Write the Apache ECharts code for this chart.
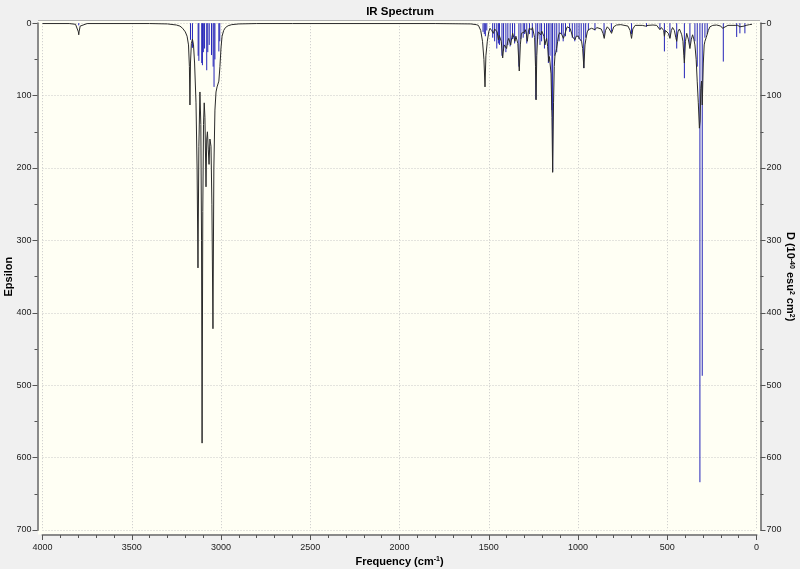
<!DOCTYPE html>
<html>
<head>
<meta charset="utf-8">
<script src="https://cdn.jsdelivr.net/npm/echarts@6/dist/echarts.min.js"></script>
<style>
  html, body { margin: 0; padding: 0; background: #f0f0f0; }
  #chart { width: 800px; height: 569px; }
</style>
</head>
<body>
<div id="chart"></div>
<script>
// ---- Data ----
var chartTitle = 'IR Spectrum';
var xTicks = [4000, 3500, 3000, 2500, 2000, 1500, 1000, 500, 0];
var yTicks = [0, 100, 200, 300, 400, 500, 600, 700];

// Broadened spectrum: [frequency (cm-1), epsilon]
var spectrumPoints = [
  [4000,0.5],[3850,0.5],[3815,1.5],[3805,4],[3799,12],[3797,16],[3795,12],[3789,4],[3780,1.5],[3750,0.5],
  [3400,0.5],[3300,1],[3250,2.5],[3230,4],[3215,7],[3200,12],[3190,18],[3182,30],[3177,60],[3174,113],
  [3171,55],[3166,28],[3160,22],[3154,30],[3148,55],[3140,110],[3134,200],[3129,338],[3124,170],[3118,95],
  [3113,140],[3109,300],[3106,580],[3102,260],[3098,140],[3094,110],[3090,130],[3084,226],[3080,160],
  [3076,150],[3071,175],[3067,195],[3062,160],[3056,170],[3051,250],[3045,422],[3040,200],[3034,120],
  [3028,95],[3022,88],[3017,86],[3012,80],[3006,60],[3000,34],[2994,18],[2985,10],[2975,6],[2960,3.5],
  [2940,2],[2900,1],[2800,0.5],[2600,0.5],[1800,0.5],[1600,1],[1570,2],[1558,3],[1545,10],[1535,25],
  [1527,50],[1521,88],[1516,45],[1508,25],[1500,12],[1493,7],[1484,10],[1474,14],[1467,8],[1461,6],
  [1453,12],[1446,23],[1441,17],[1437,16],[1430,25],[1422,48],[1417,35],[1413,30],[1406,30],[1400,35],
  [1394,25],[1388,21],[1382,26],[1377,30],[1371,20],[1366,14],[1359,20],[1353,25],[1348,18],[1344,16],
  [1337,28],[1329,66],[1323,30],[1317,14],[1311,14],[1306,16],[1300,12],[1295,9],[1289,15],[1284,25],
  [1278,12],[1273,7],[1267,8],[1261,9],[1255,6],[1250,5],[1243,20],[1238,60],[1235,106],[1231,45],
  [1226,18],[1222,12],[1215,14],[1209,16],[1203,11],[1198,9],[1191,18],[1185,30],[1180,24],[1176,21],
  [1170,32],[1164,53],[1160,46],[1157,44],[1151,70],[1146,130],[1142,206],[1137,110],[1133,60],[1129,44],
  [1124,40],[1120,35],[1114,25],[1108,16],[1102,13],[1097,12],[1090,16],[1082,21],[1076,17],[1071,16],
  [1065,8],[1060,5],[1052,6],[1045,7],[1038,12],[1030,19],[1023,18],[1017,23],[1010,18],[1004,16],
  [998,18],[993,21],[986,20],[980,25],[974,35],[967,62],[961,30],[955,21],[948,12],[942,9],[933,8],
  [924,7],[914,8],[905,9],[895,6],[886,5],[870,8],[860,14],[853,21],[846,10],[836,5],[825,8],[812,14],
  [800,5],[784,2.5],[760,2],[720,4],[708,10],[700,21],[693,8],[680,3],[671,2.5],[640,3],[622,4],[615,5],
  [608,3],[580,2.5],[559,3],[550,5],[541,9],[533,6],[526,6],[520,10],[516,18],[510,10],[503,9],[494,14],
  [485,21],[477,10],[470,6],[460,10],[452,20],[447,25],[440,12],[432,8],[425,12],[419,16],[412,25],
  [407,45],[404,55],[398,25],[391,14],[382,22],[373,35],[365,22],[358,16],[351,22],[345,30],[338,50],
  [332,81],[326,110],[320,145],[316,135],[312,90],[308,80],[304,113],[298,55],[293,30],[289,25],[282,20],
  [276,19],[270,10],[261,5],[245,3],[223,2.5],[200,4],[190,7],[186,9],[181,6],[160,3],[149,2.5],[120,3],
  [111,5],[105,3],[93,5],[85,3],[70,4],[65,5],[58,3],[40,2],[25,1.5]
];

// Stick spectrum: [frequency (cm-1), D (10^-40 esu^2 cm^2)]
var stickPoints = [
  [3797,3],[3171,23],[3160,34],[3128,45],[3124,52],[3108,55],[3104,58],[3099,40],[3092,35],[3080,65],
  [3074,40],[3066,30],[3053,44],[3044,60],[3039,88],[3034,50],[3012,39],[3007,25],
  [1532,12],[1525,15],[1519,18],[1511,10],[1478,20],[1467,25],[1455,35],[1446,28],[1440,30],[1426,45],
  [1417,38],[1404,40],[1393,30],[1380,32],[1367,22],[1355,28],[1331,60],[1320,22],[1307,20],[1299,15],
  [1287,28],[1272,15],[1256,20],[1236,105],[1226,22],[1213,30],[1204,25],[1188,35],[1176,25],[1166,55],
  [1157,45],[1146,120],[1142,205],[1130,45],[1119,40],[1106,25],[1092,15],[1083,25],[1070,18],[1047,12],
  [1032,20],[1018,25],[1006,18],[994,22],[982,25],[968,62],[957,20],[942,10],[905,10],[854,18],[813,12],
  [700,15],[616,5],[541,8],[516,39],[485,20],[447,35],[404,76],[373,30],[345,25],[332,60],[317,634],
  [304,487],[289,20],[276,15],[186,53],[111,19],[93,14],[65,14]
];

var fontFam = '"Liberation Sans", Arial, sans-serif';
function plainNum(v) { return String(v); }

var chart = echarts.init(document.getElementById('chart'), null, { renderer: 'canvas' });

function yAxisCommon(pos, offset, name, nameRotate, nameGap) {
  return {
    type: 'value', position: pos, min: yTicks[0], max: yTicks[yTicks.length - 1],
    interval: 100, inverse: true, offset: offset,
    name: name, nameLocation: 'middle', nameRotate: nameRotate, nameGap: nameGap,
    nameMoveOverlap: false,
    nameTextStyle: {
      fontFamily: fontFam, fontSize: 11, fontWeight: 'bold', color: '#000',
      rich: { sup: { fontFamily: fontFam, fontSize: 7, fontWeight: 'bold', color: '#000', verticalAlign: 'top', lineHeight: 8 } }
    },
    axisLine: { show: true, onZero: false, lineStyle: { color: '#8a8a8a', width: 2 } },
    axisTick: { show: true, length: 5, lineStyle: { color: '#555', width: 1 } },
    minorTick: { show: true, splitNumber: 2, length: 3, lineStyle: { color: '#555', width: 1 } },
    axisLabel: { fontFamily: fontFam, fontSize: 9, color: '#222', margin: 6, formatter: plainNum },
    splitLine: { show: pos === 'left', lineStyle: { type: [1, 2], color: '#c8c8c8', width: 1 } },
    minorSplitLine: { show: false }
  };
}

var option = {
  backgroundColor: '#f0f0f0',
  animation: false,
  title: {
    text: chartTitle, left: 'center', top: 1,
    textStyle: { fontFamily: fontFam, fontSize: 11.5, fontWeight: 'bold', color: '#000' }
  },
  grid: { left: 42.5, right: 43.5, top: 23.2, bottom: 39, containLabel: false, outerBoundsMode: 'none' },
  graphic: [
    { type: 'rect', z: -10, silent: true,
      shape: { x: 38, y: 20.5, width: 722, height: 514 },
      style: { fill: '#fffff4', stroke: null } },
    { type: 'line', z: -9, silent: true,
      shape: { x1: 38, y1: 20.5, x2: 760, y2: 20.5 },
      style: { stroke: '#b0b0b0', lineWidth: 1 } }
  ],
  xAxis: {
    type: 'value', min: 0, max: 4000, interval: 500, inverse: true, position: 'bottom', offset: 5,
    name: 'Frequency (cm{sup|-1})', nameLocation: 'middle', nameGap: 21, nameMoveOverlap: false,
    nameTextStyle: {
      fontFamily: fontFam, fontSize: 11, fontWeight: 'bold', color: '#000',
      rich: { sup: { fontFamily: fontFam, fontSize: 7, fontWeight: 'bold', color: '#000', verticalAlign: 'top', lineHeight: 8 } }
    },
    axisLine: { show: true, onZero: false, lineStyle: { color: '#8a8a8a', width: 2 } },
    axisTick: { show: true, length: 5, lineStyle: { color: '#555', width: 1 } },
    minorTick: { show: true, splitNumber: 5, length: 3, lineStyle: { color: '#555', width: 1 } },
    axisLabel: { fontFamily: fontFam, fontSize: 9, color: '#222', margin: 8, formatter: plainNum },
    splitLine: { show: true, lineStyle: { type: [1, 2], color: '#c8c8c8', width: 1 } },
    minorSplitLine: { show: false }
  },
  yAxis: [
    yAxisCommon('left', 5, 'Epsilon', 90, 23),
    yAxisCommon('right', 4, 'D (10{sup|-40} esu{sup|2} cm{sup|2})', -90, 24)
  ],
  series: [
    {
      type: 'custom', name: 'sticks', xAxisIndex: 0, yAxisIndex: 1, z: 2,
      data: stickPoints,
      encode: { x: 0, y: 1 },
      renderItem: function (params, api) {
        var f = api.value(0), v = api.value(1);
        var p0 = api.coord([f, 0]);
        var p1 = api.coord([f, v]);
        return {
          type: 'line',
          shape: { x1: p0[0], y1: p0[1], x2: p1[0], y2: p1[1] },
          style: { stroke: '#2424b8', lineWidth: 1 }
        };
      }
    },
    {
      type: 'line', name: 'spectrum', xAxisIndex: 0, yAxisIndex: 0, z: 3,
      data: spectrumPoints, showSymbol: false, symbol: 'none', smooth: false,
      lineStyle: { color: '#2a2a2a', width: 1 }
    }
  ]
};
chart.setOption(option);
</script>
</body>
</html>
